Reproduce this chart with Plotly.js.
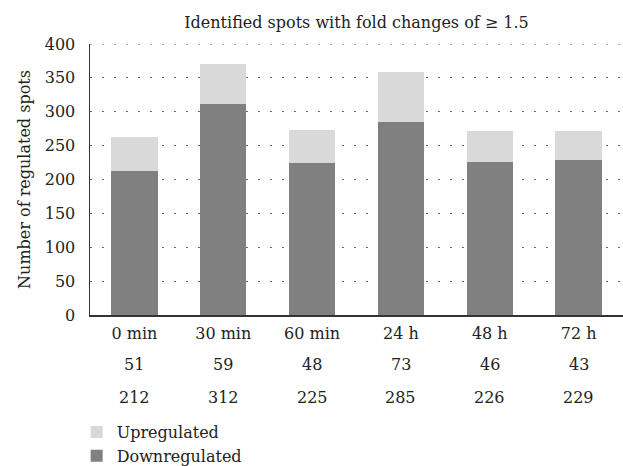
<!DOCTYPE html>
<html>
<head>
<meta charset="utf-8">
<script src="https://cdn.plot.ly/plotly-3.0.1.min.js"></script>
<style>html,body{margin:0;padding:0;background:#fff;}#chart{width:623px;height:466px;}</style>
</head>
<body>
<div id="chart"></div>
<script>
const categories = ["0 min", "30 min", "60 min", "24 h", "48 h", "72 h"];
const upregulated = [51, 59, 48, 73, 46, 43];
const downregulated = [212, 312, 225, 285, 226, 229];
const yTicks = [0, 50, 100, 150, 200, 250, 300, 350, 400];

const FONT = "DejaVu Serif, Liberation Serif, serif";
const FS = 16;
const yMax = yTicks[yTicks.length - 1];

const traces = [
  {type: "bar", name: "Downregulated", x: categories, y: downregulated,
   marker: {color: "#808080"}, width: 0.52, hoverinfo: "skip"},
  {type: "bar", name: "Upregulated", x: categories, y: upregulated,
   marker: {color: "#d9d9d9"}, width: 0.52, hoverinfo: "skip"}
];

const annotations = [];
categories.forEach((c, i) => {
  annotations.push({x: c, xref: "x", y: -0.181, yref: "paper", text: String(upregulated[i]),
    showarrow: false, yanchor: "middle", font: {family: FONT, size: FS, color: "#222"}});
  annotations.push({x: c, xref: "x", y: -0.303, yref: "paper", text: String(downregulated[i]),
    showarrow: false, yanchor: "middle", font: {family: FONT, size: FS, color: "#222"}});
});

const layout = {
  width: 623, height: 466,
  margin: {l: 90, r: 0, t: 44, b: 151, autoexpand: false},
  paper_bgcolor: "#fff", plot_bgcolor: "#fff",
  barmode: "stack",
  font: {family: FONT, size: FS, color: "#222"},
  title: {text: "Identified spots with fold changes of ≥ 1.5", x: 0.5, xref: "paper", xanchor: "center",
          y: 1 - 22/466, yref: "container", yanchor: "middle", font: {family: FONT, size: FS, color: "#222"}},
  xaxis: {type: "category", range: [-0.5, 5.5], showline: true, linecolor: "#333", linewidth: 1.5,
          showgrid: false, ticks: "", tickfont: {family: FONT, size: FS, color: "#222"}, ticklabelstandoff: 3},
  yaxis: {range: [0, yMax], tickvals: yTicks, showline: true, linecolor: "#333", linewidth: 1.5,
          showgrid: true, gridcolor: "#666", gridwidth: 1, griddash: "2px,10px", zeroline: false,
          ticks: "", ticklabelstandoff: 10, tickfont: {family: FONT, size: FS, color: "#222"},
          title: {text: "Number of regulated spots", standoff: 10, font: {family: FONT, size: FS, color: "#222"}}},
  shapes: [{type: "line", xref: "paper", x0: 0, x1: 1, yref: "y", y0: yMax, y1: yMax, layer: "below",
            line: {color: "#666", width: 1, dash: "2px,10px"}}],
  showlegend: true,
  legend: {orientation: "v", x: -0.025, xanchor: "left", y: -0.369, yanchor: "top", traceorder: "reversed",
           tracegroupgap: 0, font: {family: FONT, size: FS, color: "#222"}, bgcolor: "rgba(0,0,0,0)", itemclick: false},
  annotations: annotations
};

Plotly.newPlot("chart", traces, layout, {displayModeBar: false, staticPlot: true});
</script>
</body>
</html>
